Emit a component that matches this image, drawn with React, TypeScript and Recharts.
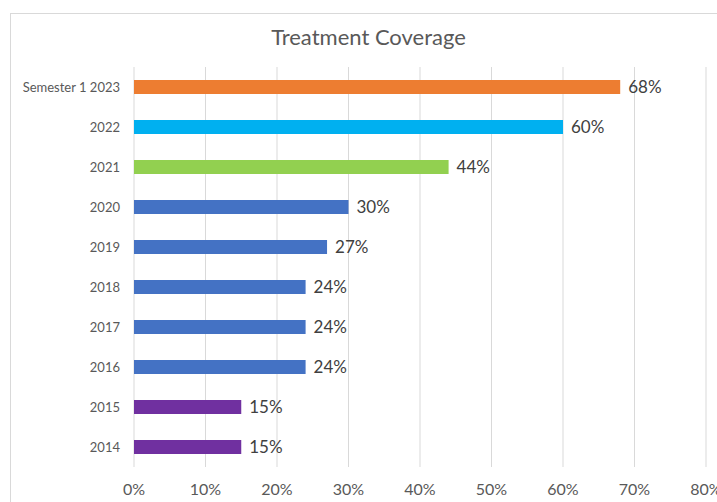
import React from "react";
import { BarChart, Bar, XAxis, YAxis, CartesianGrid, LabelList, Cell } from "recharts";

const categories = ["Semester 1 2023", "2022", "2021", "2020", "2019", "2018", "2017", "2016", "2015", "2014"];
const coverage = [0.68, 0.6, 0.44, 0.3, 0.27, 0.24, 0.24, 0.24, 0.15, 0.15];
const barColors = ["#ED7D31", "#00B0F0", "#92D050", "#4472C4", "#4472C4", "#4472C4", "#4472C4", "#4472C4", "#7030A0", "#7030A0"];
const xTicks = [0, 0.1, 0.2, 0.3, 0.4, 0.5, 0.6, 0.7, 0.8];
const title = "Treatment Coverage";

const data = categories.map((c, i) => ({ name: c, value: coverage[i] }));
const pct = (v: number) => `${Math.round(v * 100)}%`;
const FONT = "Lato, 'Open Sans', sans-serif";

export default function App() {
  return (
    <div style={{ position: "absolute", left: 0, top: 0, width: 717, height: 502, background: "#fff", overflow: "hidden", fontFamily: FONT }}>
      <div style={{ position: "absolute", left: 10, top: 13, width: 720, height: 500, border: "1px solid #d9d9d9", boxSizing: "border-box" }} />
      <div style={{ position: "absolute", left: 0, top: 23, width: 737, textAlign: "center", fontSize: 22, color: "#595959" }}>{title}</div>
      <div style={{ position: "absolute", left: 0, top: 0 }}>
        <BarChart width={717} height={502} data={data} layout="vertical" margin={{ top: 67, right: 11, bottom: 5, left: 0 }}>
          <CartesianGrid horizontal={false} stroke="#d9d9d9" />
          <XAxis
            type="number"
            domain={[0, 0.8]}
            ticks={xTicks}
            tickFormatter={pct}
            axisLine={false}
            tickLine={false}
            tickSize={0}
            tickMargin={17}
            height={30}
            tick={{ fill: "#595959", fontSize: 16, fontFamily: FONT }}
            interval={0}
          />
          <YAxis
            type="category"
            dataKey="name"
            width={134}
            axisLine={false}
            tickLine={false}
            tickSize={0}
            tickMargin={14}
            tick={{ fill: "#595959", fontSize: 13, fontFamily: FONT }}
            interval={0}
          />
          <Bar dataKey="value" barSize={14} isAnimationActive={false}>
            {data.map((d, i) => (
              <Cell key={d.name} fill={barColors[i]} />
            ))}
            <LabelList dataKey="value" position="right" offset={8} formatter={(v: any) => pct(Number(v))} fill="#404040" fontSize={17} fontFamily={FONT} />
          </Bar>
        </BarChart>
      </div>
    </div>
  );
}
